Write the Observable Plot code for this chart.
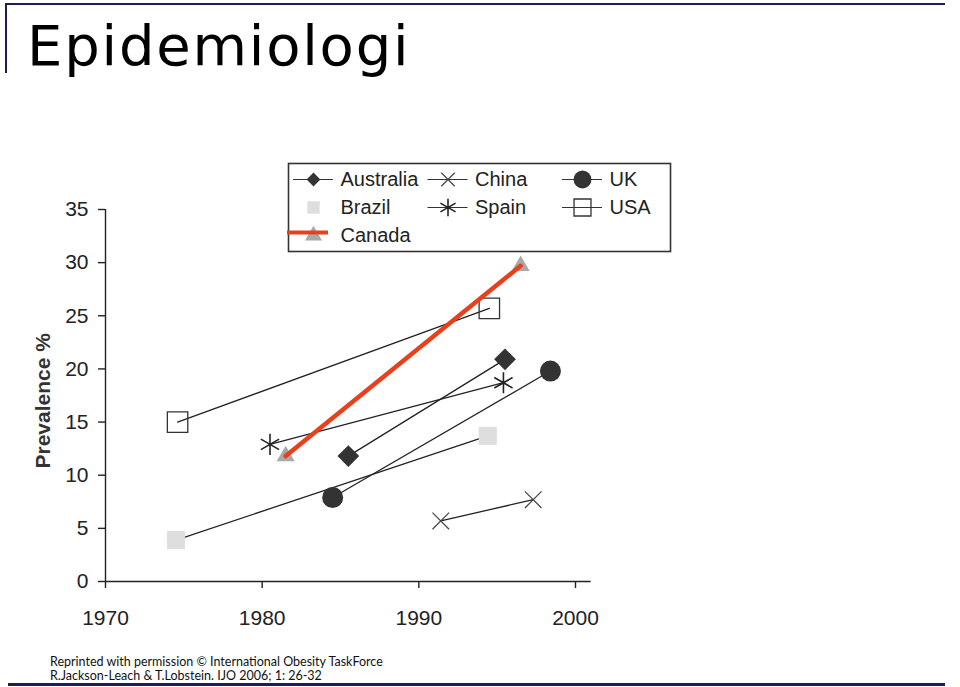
<!DOCTYPE html>
<html>
<head>
<meta charset="utf-8">
<script src="https://cdn.jsdelivr.net/npm/d3@7"></script>
<script src="https://cdn.jsdelivr.net/npm/@observablehq/plot@0.6"></script>
<style>
  html, body { margin: 0; padding: 0; background: #fff; }
  #slide { position: relative; width: 960px; height: 687px; overflow: hidden; background: #fff; }
  .bar { position: absolute; background: #1c1c5a; }
  #title { position: absolute; left: 27px; top: 6px; font-family: "DejaVu Sans", Lato, sans-serif; font-weight: 400; font-size: 56px; letter-spacing: 1.8px; line-height: 80px; color: #000; white-space: nowrap; }
  #footer { position: absolute; left: 50px; top: 655px; font-family: Lato, "DejaVu Sans", sans-serif; font-size: 12.5px; line-height: 14px; color: #111; white-space: nowrap; }
  svg { position: absolute; }
</style>
</head>
<body>
<div id="slide">
  <div class="bar" style="left:5px; top:3px; width:940px; height:2px;"></div>
  <div class="bar" style="left:5px; top:3px; width:2px; height:70px;"></div>
  <div class="bar" style="left:8px; top:683px; width:937px; height:3px;"></div>
  <div id="title">Epidemiologi</div>
  <div id="footer">Reprinted with permission © International Obesity TaskForce<br>R.Jackson-Leach &amp; T.Lobstein. IJO 2006; 1: 26-32</div>
</div>
<script>
// ---- data ----
const countries = ["Australia", "Brazil", "Canada", "China", "Spain", "UK", "USA"];
const startYear = [1985.5, 1974.5, 1981.5, 1991.4, 1980.5, 1984.5, 1974.6];
const startPrev = [11.8, 3.9, 11.8, 5.7, 12.9, 7.9, 15.0];
const endYear   = [1995.5, 1994.4, 1996.5, 1997.3, 1995.4, 1998.4, 1994.5];
const endPrev   = [20.9, 13.7, 29.7, 7.7, 18.7, 19.8, 25.7];
const yTicks = [0, 5, 10, 15, 20, 25, 30, 35];
const xTicks = [1970, 1980, 1990, 2000];
const yLabel = "Prevalence %";
const highlighted = "Canada";
// legend grid (column, row) for each country
const legendCol = [0, 0, 0, 1, 1, 2, 2];
const legendRow = [0, 1, 2, 0, 1, 0, 1];

// ---- styles ----
const markerStyle = {
  Australia: {symbol: "diamond2", fill: "#333", stroke: "none", r: 9.8, lr: 6.2},
  Brazil:    {symbol: "square",   fill: "#dedede", stroke: "none", r: 10.2, lr: 7},
  Canada:    {symbol: "triangle", fill: "#a9a9a9", stroke: "none", r: 6.7, lr: 6.3},
  China:     {symbol: "times",    fill: "none", stroke: "#444", r: 7.6, lr: 6.2, sw: 1.2},
  Spain:     {symbol: "asterisk", fill: "none", stroke: "#222", r: 10, lr: 8.3, sw: 1.6},
  UK:        {symbol: "circle",   fill: "#333", stroke: "none", r: 10.5, lr: 9},
  USA:       {symbol: "square2",  fill: "none", stroke: "#333", r: 13, lr: 10.8, sw: 1.3}
};
const font = '"Liberation Sans", Arial, Helvetica, sans-serif';
const red = "#e8401c";

const points = [];
countries.forEach((c, i) => {
  points.push({country: c, year: startYear[i], prev: startPrev[i]});
  points.push({country: c, year: endYear[i], prev: endPrev[i]});
});

const dotMarks = countries.map(c => {
  const s = markerStyle[c];
  return Plot.dot(points.filter(d => d.country === c), {
    x: "year", y: "prev", symbol: s.symbol, fill: s.fill, stroke: s.stroke,
    strokeWidth: s.sw || 1, r: s.r
  });
});

const chart = Plot.plot({
  width: 960, height: 687,
  marginLeft: 105, marginRight: 385, marginTop: 209, marginBottom: 106,
  x: {domain: [1970, 2000]},
  y: {domain: [0, 35]},
  style: {fontFamily: font, background: "transparent", overflow: "visible", color: "#222"},
  marks: [
    Plot.ruleX([1970], {y1: 0, y2: 35, stroke: "#222", strokeWidth: 1.4}),
    Plot.ruleY([0], {x1: 1970, x2: 2001, stroke: "#222", strokeWidth: 1.4}),
    Plot.axisY({ticks: yTicks, tickSize: 7, tickPadding: 10, fontSize: 21, label: null, stroke: "#222", strokeWidth: 1.4, fill: "#222"}),
    Plot.axisX({ticks: xTicks, tickSize: 7, tickPadding: 22, fontSize: 21, label: null, tickFormat: d => String(d), stroke: "#222", strokeWidth: 1.4, fill: "#222"}),
    Plot.text([yLabel], {x: () => 1970, y: () => 17, dx: -62, rotate: -90, fontSize: 21, fontWeight: "bold", fill: "#333"}),
    Plot.line(points, {x: "year", y: "prev", z: "country", stroke: "#222", strokeWidth: 1.3}),
    ...dotMarks,
    Plot.line(points.filter(d => d.country === highlighted), {x: "year", y: "prev", stroke: red, strokeWidth: 4.5})
  ]
});
chart.style.left = "0px";
chart.style.top = "0px";
document.getElementById("slide").appendChild(chart);

// ---- legend ----
const legendData = countries.map((c, i) => ({country: c, col: legendCol[i], row: legendRow[i]}));
const withLine = legendData.filter(d => d.country !== "Brazil");
const legendDots = legendData.map(d => {
  const s = markerStyle[d.country];
  return Plot.dot([d], {x: "col", y: "row", symbol: s.symbol, fill: s.fill, stroke: s.stroke, strokeWidth: s.sw || 1, r: s.lr});
});
const legend = Plot.plot({
  width: 384, height: 90,
  marginLeft: 0, marginRight: 0, marginTop: 0, marginBottom: 0,
  x: {domain: [0, 2], range: [26, 295], axis: null},
  y: {domain: [0, 2], range: [17, 73], axis: null},
  style: {fontFamily: font, background: "#fff", overflow: "visible"},
  marks: [
    Plot.frame({stroke: "#333", strokeWidth: 1.6, inset: 1}),
    Plot.ruleY(withLine.filter(d => d.country !== highlighted), {x1: "col", x2: "col", y: "row", insetLeft: -20, insetRight: -20, stroke: "#333", strokeWidth: 1.1}),
    ...legendDots,
    Plot.ruleY(legendData.filter(d => d.country === highlighted), {x1: "col", x2: "col", y: "row", insetLeft: -26, insetRight: -15, dy: -3, stroke: red, strokeWidth: 4}),
    Plot.text(legendData, {x: "col", y: "row", text: "country", dx: 27, textAnchor: "start", fontSize: 20, fill: "#222"})
  ]
});
legend.style.left = "287px";
legend.style.top = "162px";
document.getElementById("slide").appendChild(legend);
</script>
</body>
</html>
